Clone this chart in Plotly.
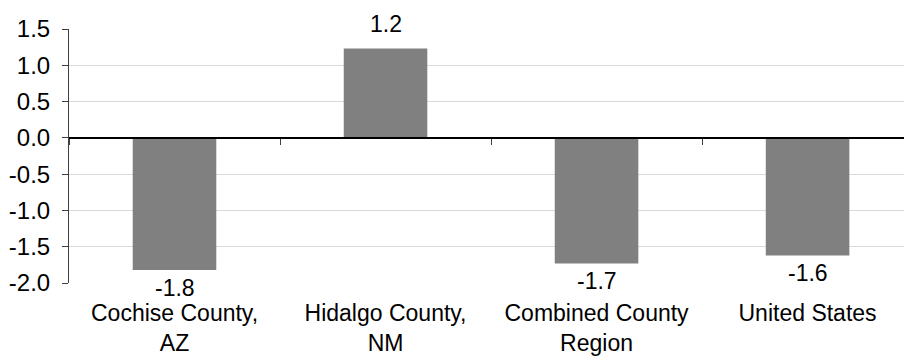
import plotly.graph_objects as go

# Change values by area
categories = ["Cochise County,<br>AZ", "Hidalgo County,<br>NM", "Combined County<br>Region", "United States"]
values = [-1.82, 1.23, -1.73, -1.62]
y_ticks = [-2.0, -1.5, -1.0, -0.5, 0.0, 0.5, 1.0, 1.5]

FONT = "Liberation Sans, Arial, sans-serif"
FS = 24
y_min, y_max = -2.0, 1.5
x_range = [-0.5, 3.457]

fig = go.Figure()
fig.add_trace(go.Bar(
    x=list(range(len(categories))), y=values,
    marker=dict(color="#808080", line=dict(width=0)),
    hoverinfo="skip", showlegend=False,
))
# empty trace so the zero-line axis gets drawn
fig.add_trace(go.Scatter(x=[], y=[], xaxis="x2", yaxis="y", showlegend=False, hoverinfo="skip"))

# value labels beyond the end of each bar
for i, v in enumerate(values):
    fig.add_annotation(
        x=i, y=v, xref="x", yref="y", text=f"{v:.1f}", showarrow=False,
        yanchor="bottom" if v > 0 else "top", yshift=11 if v > 0 else -4,
        borderpad=0,
        font=dict(family=FONT, size=23, color="#000000"),
    )

fig.update_layout(
    width=904, height=356,
    margin=dict(l=69, r=0, t=29, b=73, pad=0),
    paper_bgcolor="white", plot_bgcolor="white",
    bargap=0.604,
    font=dict(family=FONT, size=FS, color="#000000"),
    xaxis=dict(
        type="linear", range=x_range, automargin=False,
        tickmode="array", tickvals=list(range(len(categories))), ticktext=categories,
        showgrid=False, zeroline=False, showline=False, ticks="",
        ticklabelstandoff=14,
        tickfont=dict(family=FONT, size=23, color="#000000"),
    ),
    xaxis2=dict(
        overlaying="x", anchor="free", position=(0 - y_min) / (y_max - y_min),
        range=x_range, tickmode="array", tickvals=[-0.5, 0.5, 1.5, 2.5],
        showticklabels=False, showgrid=False, zeroline=False,
        showline=True, linecolor="#000000", linewidth=1.5,
        ticks="outside", ticklen=6, tickwidth=1, tickcolor="#404040",
    ),
    yaxis=dict(
        range=[y_min, y_max], tickmode="array", tickvals=y_ticks, automargin=False,
        ticktext=[f"{t:.1f}" for t in y_ticks],
        showgrid=True, gridcolor="#d9d9d9", gridwidth=1,
        zeroline=False, showline=True, linecolor="#404040", linewidth=1,
        ticks="outside", ticklen=6, tickwidth=1, tickcolor="#404040",
        ticklabelstandoff=7,
        tickfont=dict(family=FONT, size=FS, color="#000000"),
    ),
)

fig.write_html("out.html")
